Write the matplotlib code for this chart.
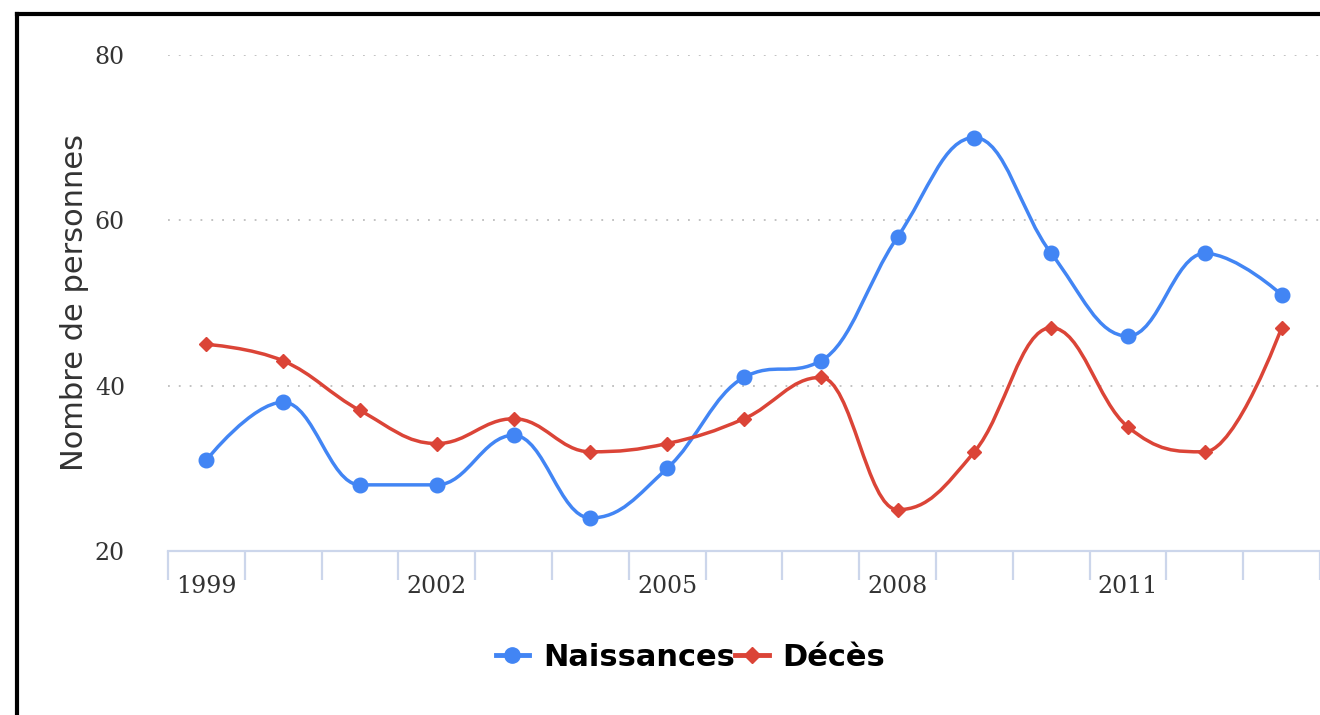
import numpy as np
import matplotlib.pyplot as plt
from matplotlib.path import Path
from matplotlib.patches import PathPatch
from matplotlib.lines import Line2D

years = list(range(1999, 2014))
naissances = [31, 38, 28, 28, 34, 24, 30, 41, 43, 58, 70, 56, 46, 56, 51]
deces = [45, 43, 37, 33, 36, 32, 33, 36, 41, 25, 32, 47, 35, 32, 47]
tick_years = [1999, 2002, 2005, 2008, 2011]

BLUE = '#4285F4'
RED = '#DB4437'
AXIS = '#ccd6eb'


def spline_path(xs, ys, smoothing=1.5):
    # Highcharts-style spline: cubic bezier control points per point
    n = len(xs)
    denom = smoothing + 1
    left = [(xs[i], ys[i]) for i in range(n)]
    right = [(xs[i], ys[i]) for i in range(n)]
    for i in range(1, n - 1):
        lx, ly = xs[i - 1], ys[i - 1]
        px, py = xs[i], ys[i]
        nx, ny = xs[i + 1], ys[i + 1]
        lcx = (smoothing * px + lx) / denom
        lcy = (smoothing * py + ly) / denom
        rcx = (smoothing * px + nx) / denom
        rcy = (smoothing * py + ny) / denom
        if rcx != lcx:
            corr = (rcy - lcy) * (rcx - px) / (rcx - lcx) + py - rcy
            lcy += corr
            rcy += corr
        if lcy > ly and lcy > py:
            lcy = max(ly, py)
            rcy = 2 * py - lcy
        elif lcy < ly and lcy < py:
            lcy = min(ly, py)
            rcy = 2 * py - lcy
        if rcy > ny and rcy > py:
            rcy = max(ny, py)
            lcy = 2 * py - rcy
        elif rcy < ny and rcy < py:
            rcy = min(ny, py)
            lcy = 2 * py - rcy
        left[i] = (lcx, lcy)
        right[i] = (rcx, rcy)
    verts = [(xs[0], ys[0])]
    codes = [Path.MOVETO]
    for i in range(1, n):
        verts += [right[i - 1], left[i], (xs[i], ys[i])]
        codes += [Path.CURVE4] * 3
    return Path(verts, codes)


fig = plt.figure(figsize=(13.2, 7.15), dpi=100)
ax = fig.add_axes([168 / 1320, 1 - 551 / 715, 1 - 168 / 1320, (551 - 55) / 715])

x = np.arange(len(years))
for vals, col, mk, ms in [(naissances, BLUE, 'o', 10.5), (deces, RED, 'D', 7.5)]:
    ax.add_patch(PathPatch(spline_path(x, vals), fill=False, edgecolor=col,
                           lw=2.5, zorder=3, clip_on=False))
    ax.plot(x, vals, ls='none', marker=mk, color=col, ms=ms, zorder=4, clip_on=False)

ax.set_xlim(-0.5, len(years) - 0.5)
ax.set_ylim(20, 80)

ax.set_yticks([20, 40, 60, 80])
ax.set_yticklabels(['20', '40', '60', '80'], family='DejaVu Serif', fontsize=17, color='#333333')
ax.tick_params(axis='y', length=0, pad=31)
ax.yaxis.grid(True, ls=(0, (1, 5)), color='#bdbdbd', lw=1.3)

ax.set_xticks(np.arange(-0.5, len(years) + 0.5, 1))
ax.set_xticklabels([])
ax.tick_params(axis='x', length=21, color=AXIS, width=1.6, direction='out')
ax.set_xticks([years.index(y) for y in tick_years], minor=True)
ax.set_xticklabels([str(y) for y in tick_years], minor=True,
                   family='DejaVu Serif', fontsize=17, color='#333333')
ax.tick_params(axis='x', which='minor', length=0, pad=17)

for s in ['top', 'right', 'left']:
    ax.spines[s].set_visible(False)
ax.spines['bottom'].set_color(AXIS)
ax.spines['bottom'].set_linewidth(1.6)
ax.set_axisbelow(True)

fig.text(75 / 1320, 1 - 303 / 715, 'Nombre de personnes', rotation=90,
         ha='center', va='center', fontsize=22, color='#333333')

handles = [Line2D([], [], color=BLUE, lw=3.5, marker='o', ms=11),
           Line2D([], [], color=RED, lw=3.5, marker='D', ms=8)]
fig.legend(handles, ['Naissances', 'Décès'], loc='center', bbox_to_anchor=(0.523, 1 - 657 / 715),
           ncol=2, frameon=False, handlelength=1.1, columnspacing=0.0, handletextpad=0.45,
           prop={'weight': 'bold', 'size': 22})

# frame of the original screenshot (top and left edges)
fig.add_artist(Line2D([17 / 1320, 17 / 1320], [0, 1 - 14 / 715], color='black', lw=3))
fig.add_artist(Line2D([17 / 1320, 1], [1 - 14 / 715, 1 - 14 / 715], color='black', lw=3))

fig.savefig('out.png', dpi=100, facecolor='white')
